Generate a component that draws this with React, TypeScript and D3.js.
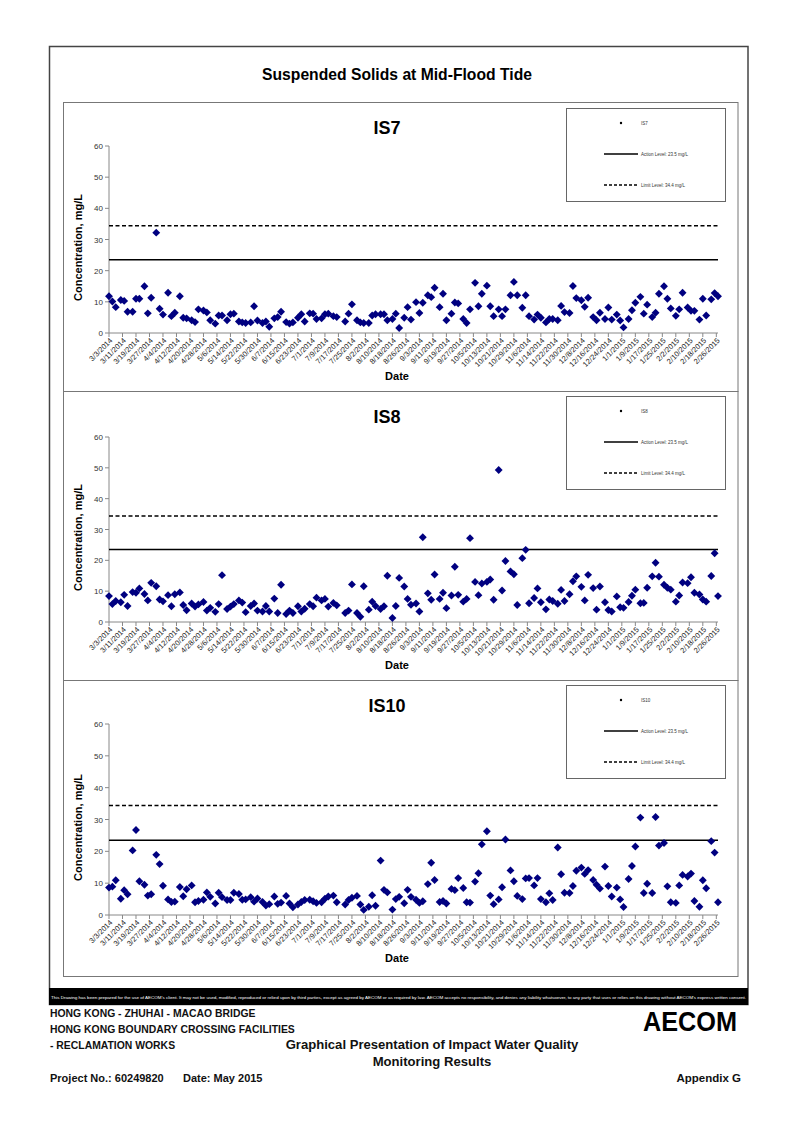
import React, { useEffect, useRef } from "react";
import * as d3 from "d3";

// sampling days (Mon / Wed / Fri), one week per line
const sampleDates = [
  "3/3/2014", "3/5/2014", "3/7/2014",
  "3/10/2014", "3/12/2014", "3/14/2014",
  "3/17/2014", "3/19/2014", "3/21/2014",
  "3/24/2014", "3/26/2014", "3/28/2014",
  "3/31/2014", "4/2/2014", "4/4/2014",
  "4/7/2014", "4/9/2014", "4/11/2014",
  "4/14/2014", "4/16/2014", "4/18/2014",
  "4/21/2014", "4/23/2014", "4/25/2014",
  "4/28/2014", "4/30/2014", "5/2/2014",
  "5/5/2014", "5/7/2014", "5/9/2014",
  "5/12/2014", "5/14/2014", "5/16/2014",
  "5/19/2014", "5/21/2014", "5/23/2014",
  "5/26/2014", "5/28/2014", "5/30/2014",
  "6/2/2014", "6/4/2014", "6/6/2014",
  "6/9/2014", "6/11/2014", "6/13/2014",
  "6/16/2014", "6/18/2014", "6/20/2014",
  "6/23/2014", "6/25/2014", "6/27/2014",
  "6/30/2014", "7/2/2014", "7/4/2014",
  "7/7/2014", "7/9/2014", "7/11/2014",
  "7/14/2014", "7/16/2014", "7/18/2014",
  "7/21/2014", "7/23/2014", "7/25/2014",
  "7/28/2014", "7/30/2014", "8/1/2014",
  "8/4/2014", "8/6/2014", "8/8/2014",
  "8/11/2014", "8/13/2014", "8/15/2014",
  "8/18/2014", "8/20/2014", "8/22/2014",
  "8/25/2014", "8/27/2014", "8/29/2014",
  "9/1/2014", "9/3/2014", "9/5/2014",
  "9/8/2014", "9/10/2014", "9/12/2014",
  "9/15/2014", "9/17/2014", "9/19/2014",
  "9/22/2014", "9/24/2014", "9/26/2014",
  "9/29/2014", "10/1/2014", "10/3/2014",
  "10/6/2014", "10/8/2014", "10/10/2014",
  "10/13/2014", "10/15/2014", "10/17/2014",
  "10/20/2014", "10/22/2014", "10/24/2014",
  "10/27/2014", "10/29/2014", "10/31/2014",
  "11/3/2014", "11/5/2014", "11/7/2014",
  "11/10/2014", "11/12/2014", "11/14/2014",
  "11/17/2014", "11/19/2014", "11/21/2014",
  "11/24/2014", "11/26/2014", "11/28/2014",
  "12/1/2014", "12/3/2014", "12/5/2014",
  "12/8/2014", "12/10/2014", "12/12/2014",
  "12/15/2014", "12/17/2014", "12/19/2014",
  "12/22/2014", "12/24/2014", "12/26/2014",
  "12/29/2014", "12/31/2014", "1/2/2015",
  "1/5/2015", "1/7/2015", "1/9/2015",
  "1/12/2015", "1/14/2015", "1/16/2015",
  "1/19/2015", "1/21/2015", "1/23/2015",
  "1/26/2015", "1/28/2015", "1/30/2015",
  "2/2/2015", "2/4/2015", "2/6/2015",
  "2/9/2015", "2/11/2015", "2/13/2015",
  "2/16/2015", "2/18/2015", "2/20/2015",
  "2/23/2015", "2/25/2015", "2/27/2015",
];

const is7Values = [
  11.8, 10.1, 8.3, 10.6, 10.3, 6.8, 6.8, 11, 11, 15, 6.3, 11.3,
  32.2, 7.8, 5.9, 12.9, 5.4, 6.5, 11.8, 4.9, 4.7, 4.1, 3.5, 7.6,
  7.2, 6.6, 4.1, 3, 5.6, 5.6, 4.1, 6, 6.2, 3.7, 3.4, 3.2,
  3.4, 8.6, 4, 3.2, 3.7, 2, 4.7, 5.1, 6.8, 3.5, 3, 3.4,
  4.9, 6, 3.7, 6.3, 6.2, 4.5, 4.7, 6, 6.2, 5.4, 5.1, null,
  3.7, 6.2, 9.2, 4.1, 3.4, 3.2, 3.2, 5.6, 6, 6, 6, 4.1,
  4.5, 6.2, 1.6, 4.9, 8.3, 4.3, 9.9, 6.4, 9.7, 12.1, 11.5, 14.5,
  8.3, 12.6, 4.1, 6.2, 9.8, 9.5, 4.5, 3.2, 7.6, 16.1, 8.6, 12.6,
  15.2, 8.6, 5.4, 7.6, 5.4, 7.6, 12.1, 16.4, 12.1, 8.1, 12.1, 5.4,
  4.3, 5.9, 4.9, 3.4, 4.5, 4.5, 4.1, 8.7, 6.7, 6.4, 15.1, 11.2,
  10.5, 8.4, 11.3, 5.1, 4.1, 6.5, 4.5, 8.2, 4.3, 5.9, 4, 1.8,
  4.5, 7.3, 9.7, 11.6, 6.2, 9.1, 5.1, 6.5, 12.6, 15, 11, 7.9,
  5.5, 7.6, 12.9, 8.2, 7.1, 7.1, 4.3, 11, 5.6, 10.8, 12.8, 11.8,
];

const is8Values = [
  8.4, 5.8, 6.8, 6.4, 8.8, 5.2, 9.7, 9.5, 10.9, 9.1, 7, 12.7,
  11.6, 7.3, 6.7, 8.7, 5.1, 9, 9.6, 5.5, 3.8, 6, 5, 5.7,
  6.5, 3.7, 4.6, 3.3, 5.8, 15.2, 4.2, 5, 5.8, 7, 6.3, 3.2,
  5.2, 6, 3.7, 3.4, 5.2, 3.4, 7.6, 2.9, 12.1, 2.6, 3.7, 2.9,
  5.1, 3.4, 4.3, 5.8, 5.1, 7.9, 7, 7.5, 5, 6.2, 5.4, null,
  2.9, 3.7, 12.2, 2.9, 1.7, 11.6, 4, 6.6, 5.2, 4.2, 5.1, 15,
  1.3, 5.2, 14.3, 11.5, 7.5, 5.6, 6, 3.4, 27.5, 9.3, 7.2, 15.4,
  7.5, 9.5, 4.5, 8.6, 17.9, 8.8, 6.6, 7.5, 27.2, 13, 8.7, 12.5,
  13, 13.8, 7.2, 49.3, 10.2, 19.8, 16.4, 15.5, 5.5, 20.7, 23.4, 6.1,
  7.8, 10.9, 6.4, 4.1, 7.3, 6.8, 5.9, 10.4, 6.8, 9, 13.2, 14.8,
  11.4, 7, 15.3, 11, 4, 11.5, 6.4, 3.9, 3.4, 8.3, 4.8, 4.6,
  6.5, 8.5, 10.5, 6.1, 6.2, 11.1, 14.8, 19.2, 14.7, 12.1, 11.1, 10.5,
  6.6, 8.6, 12.8, 12.6, 14.5, 9.5, 8.9, 7.3, 6.6, 14.9, 22.3, 8.4,
];

const is10Values = [
  8.6, 8.9, 10.9, 5.1, 7.8, 6.5, 20.3, 26.7, 10.6, 9.5, 6.1, 6.5,
  18.9, 16, 9.2, 4.9, 4.1, 4.2, 8.8, 5.9, 8.1, 9.3, 4, 4.4,
  4.8, 7.1, 5.7, 3.6, 7, 5.6, 4.7, 4.7, 7, 6.6, 4.8, 4.9,
  5.6, 4.2, 5.2, 4.1, 3, 3.4, 5.8, 3.5, 3.9, 6, 3.6, 2.4,
  3.3, 4.1, 4.7, 4.8, 4.3, 3.8, 4, 5.1, 5.8, 6.1, 4, null,
  3.3, 4.7, 5.4, 6, 3.3, 1.6, 2.6, 6.2, 2.9, 17.1, 7.9, 7.1,
  1.7, 5, 5.7, 3.7, 7.9, 5.7, 4.8, 3.8, 4.3, 9.7, 16.4, 11,
  4.1, 4.4, 3.6, 8.2, 7.8, 11.6, 8.5, 4, 3.9, 10.5, 13.1, 22.2,
  26.3, 6.1, 3.4, 4.9, 8.7, 23.7, 14, 10.6, 6, 5, 11.5, 11.6,
  9.3, 11.6, 5, 4, 6.8, 4.7, 21.2, 12.8, 7, 6.9, 9.1, 13.9,
  14.9, 12.9, 14.1, 11, 9.5, 8.3, 15.2, 9.1, 5.8, 8.6, 4.9, 2.5,
  11.3, 15.4, 21.5, 30.6, 6.9, 9.8, 6.9, 30.8, 21.8, 22.6, 9, 4,
  3.8, 9.3, 12.6, 12.1, 13, 4.4, 2.6, 10.9, 8.4, 23.2, 19.6, 4,
];

const tickDates = [
  "3/3/2014", "3/11/2014", "3/19/2014", "3/27/2014", "4/4/2014", "4/12/2014",
  "4/20/2014", "4/28/2014", "5/6/2014", "5/14/2014", "5/22/2014", "5/30/2014",
  "6/7/2014", "6/15/2014", "6/23/2014", "7/1/2014", "7/9/2014", "7/17/2014",
  "7/25/2014", "8/2/2014", "8/10/2014", "8/18/2014", "8/26/2014", "9/3/2014",
  "9/11/2014", "9/19/2014", "9/27/2014", "10/5/2014", "10/13/2014", "10/21/2014",
  "10/29/2014", "11/6/2014", "11/14/2014", "11/22/2014", "11/30/2014", "12/8/2014",
  "12/16/2014", "12/24/2014", "1/1/2015", "1/9/2015", "1/17/2015", "1/25/2015",
  "2/2/2015", "2/10/2015", "2/18/2015", "2/26/2015",
];

const yTicks = [0, 10, 20, 30, 40, 50, 60];
const actionLevel = 23.5;
const limitLevel = 34.4;

const FONT = "'Liberation Sans', Arial, sans-serif";
const NARROW = "'Liberation Sans Narrow', 'Liberation Sans', Arial, sans-serif";

const App = () => {
  const ref = useRef<SVGSVGElement>(null);

  useEffect(() => {
    const svg = d3.select(ref.current);
    svg.selectAll("*").remove();

    const parse = d3.timeParse("%m/%d/%Y");
    const fmt = d3.timeFormat("%-m/%-d/%Y");
    const x = d3
      .scaleTime()
      .domain([parse("3/3/2014") as Date, parse("2/27/2015") as Date])
      .range([109, 718]);

    const panels = [
      { name: "IS7", values: is7Values, top: 102, bottom: 391, y0: 333, y60: 146, legTop: 108 },
      { name: "IS8", values: is8Values, top: 391, bottom: 680, y0: 622, y60: 437, legTop: 396 },
      { name: "IS10", values: is10Values, top: 680, bottom: 976, y0: 915, y60: 724, legTop: 685 },
    ];

    // outer frame + main title
    svg
      .append("rect")
      .attr("x", 49.5)
      .attr("y", 46.5)
      .attr("width", 698.5)
      .attr("height", 958)
      .attr("fill", "none")
      .attr("stroke", "#444")
      .attr("stroke-width", 1.5);

    svg
      .append("text")
      .attr("x", 397)
      .attr("y", 80)
      .attr("text-anchor", "middle")
      .attr("font-family", FONT)
      .attr("font-weight", "bold")
      .attr("font-size", 15.7)
      .text("Suspended Solids at Mid-Flood Tide");

    const diamond = d3.symbol().type(d3.symbolSquare).size(31);

    panels.forEach((p) => {
      const y = d3.scaleLinear().domain([0, 60]).range([p.y0, p.y60]);
      const g = svg.append("g");

      g.append("rect")
        .attr("x", 63.5)
        .attr("y", p.top + 0.5)
        .attr("width", 674.5)
        .attr("height", p.bottom - p.top)
        .attr("fill", "#fff")
        .attr("stroke", "#777")
        .attr("stroke-width", 1);

      g.append("text")
        .attr("x", 387)
        .attr("y", p.top + 32)
        .attr("text-anchor", "middle")
        .attr("font-family", FONT)
        .attr("font-weight", "bold")
        .attr("font-size", 18)
        .text(p.name);

      // y axis
      g.append("line")
        .attr("x1", 109)
        .attr("x2", 109)
        .attr("y1", y(0))
        .attr("y2", y(60))
        .attr("stroke", "#888");
      const yt = g.selectAll(".yt").data(yTicks).enter().append("g");
      yt.append("line")
        .attr("x1", 105)
        .attr("x2", 109)
        .attr("y1", (d) => y(d))
        .attr("y2", (d) => y(d))
        .attr("stroke", "#888");
      yt.append("text")
        .attr("x", 103)
        .attr("y", (d) => y(d) + 3)
        .attr("text-anchor", "end")
        .attr("font-family", FONT)
        .attr("font-size", 8)
        .attr("fill", "#333")
        .text((d) => d);

      g.append("text")
        .attr("transform", `translate(82,${(p.y0 + p.y60) / 2 + 8}) rotate(-90)`)
        .attr("text-anchor", "middle")
        .attr("font-family", FONT)
        .attr("font-weight", "bold")
        .attr("font-size", 11)
        .text("Concentration, mg/L");

      // x axis
      g.append("line")
        .attr("x1", 109)
        .attr("x2", 718)
        .attr("y1", p.y0)
        .attr("y2", p.y0)
        .attr("stroke", "#888");
      const xt = g
        .selectAll(".xt")
        .data(tickDates.map((s) => parse(s) as Date))
        .enter()
        .append("g");
      xt.append("line")
        .attr("x1", (d) => x(d))
        .attr("x2", (d) => x(d))
        .attr("y1", p.y0)
        .attr("y2", p.y0 + 4)
        .attr("stroke", "#888");
      xt.append("text")
        .attr("transform", (d) => `translate(${x(d) + 4},${p.y0 + 8}) rotate(-45)`)
        .attr("text-anchor", "end")
        .attr("font-family", FONT)
        .attr("font-size", 7.5)
        .attr("fill", "#222")
        .text((d) => fmt(d));

      g.append("text")
        .attr("x", 397)
        .attr("y", p.y0 + 47)
        .attr("text-anchor", "middle")
        .attr("font-family", FONT)
        .attr("font-weight", "bold")
        .attr("font-size", 11)
        .text("Date");

      // criteria lines
      g.append("line")
        .attr("x1", 109)
        .attr("x2", 718)
        .attr("y1", y(actionLevel))
        .attr("y2", y(actionLevel))
        .attr("stroke", "#000")
        .attr("stroke-width", 1.5);
      g.append("line")
        .attr("x1", 109)
        .attr("x2", 718)
        .attr("y1", y(limitLevel))
        .attr("y2", y(limitLevel))
        .attr("stroke", "#000")
        .attr("stroke-width", 1.5)
        .attr("stroke-dasharray", "4,2.5");

      // data
      const pts = sampleDates
        .map((s, i) => ({ date: parse(s) as Date, v: p.values[i] }))
        .filter((d) => d.v !== null && d.v !== undefined);
      g.append("g")
        .selectAll("path")
        .data(pts)
        .enter()
        .append("path")
        .attr("d", diamond as any)
        .attr("transform", (d) => `translate(${x(d.date)},${y(d.v as number)}) rotate(45)`)
        .attr("fill", "#000080");

      // legend
      const L = p.legTop;
      g.append("rect")
        .attr("x", 566.5)
        .attr("y", L + 0.5)
        .attr("width", 159)
        .attr("height", 93)
        .attr("fill", "#fff")
        .attr("stroke", "#666");
      g.append("circle").attr("cx", 621).attr("cy", L + 15).attr("r", 1.2).attr("fill", "#000");
      g.append("line")
        .attr("x1", 604)
        .attr("x2", 638)
        .attr("y1", L + 46)
        .attr("y2", L + 46)
        .attr("stroke", "#000")
        .attr("stroke-width", 1.5);
      g.append("line")
        .attr("x1", 604)
        .attr("x2", 638)
        .attr("y1", L + 77)
        .attr("y2", L + 77)
        .attr("stroke", "#000")
        .attr("stroke-width", 1.5)
        .attr("stroke-dasharray", "3,2");
      const legTexts = [p.name, `Action Level: ${actionLevel} mg/L`, `Limit Level: ${limitLevel} mg/L`];
      [L + 17, L + 48, L + 79].forEach((yy, i) => {
        g.append("text")
          .attr("x", 641)
          .attr("y", yy)
          .attr("font-family", FONT)
          .attr("font-size", 4.5)
          .attr("fill", "#333")
          .text(legTexts[i]);
      });
    });

    // footer
    svg.append("rect").attr("x", 49).attr("y", 988).attr("width", 699).attr("height", 17).attr("fill", "#000");
    svg
      .append("text")
      .attr("x", 51)
      .attr("y", 998.5)
      .attr("font-family", NARROW)
      .attr("font-size", 4.4)
      .attr("fill", "#fff")
      .attr("textLength", 695)
      .attr("lengthAdjust", "spacingAndGlyphs")
      .text(
        "This Drawing has been prepared for the use of AECOM's client. It may not be used, modified, reproduced or relied upon by third parties, except as agreed by AECOM or as required by law. AECOM accepts no responsibility, and denies any liability whatsoever, to any party that uses or relies on this drawing without AECOM's express written consent."
      );

    const foot = (t: string, xx: number, yy: number, size: number, anchor = "start") =>
      svg
        .append("text")
        .attr("x", xx)
        .attr("y", yy)
        .attr("text-anchor", anchor)
        .attr("font-family", FONT)
        .attr("font-weight", "bold")
        .attr("font-size", size)
        .attr("fill", "#111")
        .text(t);

    foot("HONG KONG - ZHUHAI - MACAO BRIDGE", 50, 1017, 10.4);
    foot("HONG KONG BOUNDARY CROSSING FACILITIES", 50, 1033, 10.4);
    foot("- RECLAMATION WORKS", 50, 1049, 10.4);
    foot("Graphical Presentation of Impact Water Quality", 432, 1048.5, 13.1, "middle");
    foot("Monitoring Results", 432, 1065.5, 13.1, "middle");
    foot("Project No.: 60249820", 50, 1082, 11);
    foot("Date: May 2015", 183, 1082, 11);
    foot("Appendix G", 741, 1082, 11.5, "end");

    svg
      .append("text")
      .attr("x", 643)
      .attr("y", 1031)
      .attr("font-family", FONT)
      .attr("font-weight", 900)
      .attr("font-size", 27)
      .attr("textLength", 94)
      .attr("lengthAdjust", "spacingAndGlyphs")
      .text("AECOM");
  }, []);

  return (
    <svg
      ref={ref}
      width={794}
      height={1123}
      style={{ position: "absolute", left: 0, top: 0, background: "#fff" }}
    />
  );
};

export default App;
